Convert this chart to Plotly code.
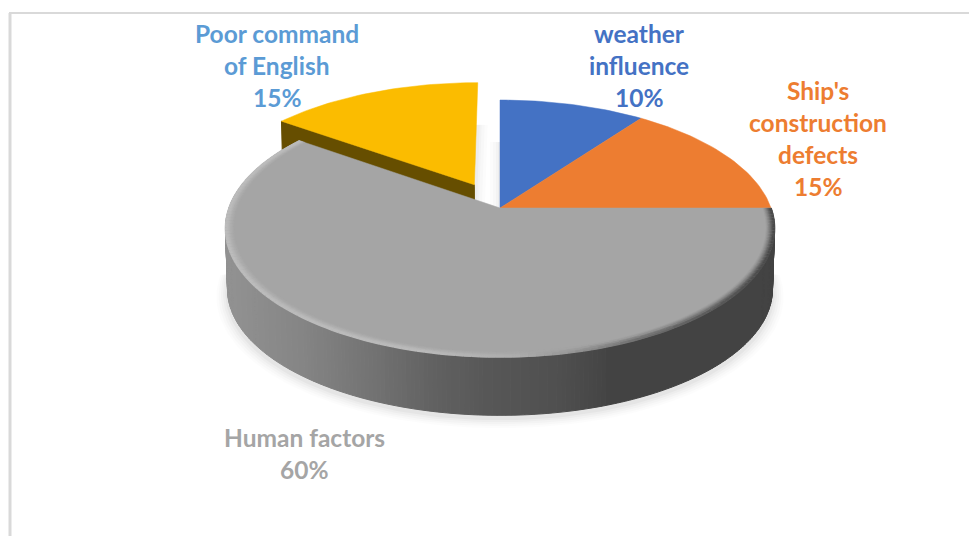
import math
import plotly.graph_objects as go

# ---- data ----
categories = ["weather influence", "Ship's construction defects", "Human factors", "Poor command of English"]
values = [10, 15, 60, 15]
exploded = [0, 0, 0, 0.215]
label_lines = [["weather", "influence", "10%"], ["Ship's", "construction", "defects", "15%"],
               ["Human factors", "60%"], ["Poor command", "of English", "15%"]]
# ---- style ----
top_colors = ["#4472C4", "#ED7D31", "#A5A5A5", "#FBBC00"]
label_colors = ["#4472C4", "#ED7D31", "#A5A5A5", "#5B9BD5"]
yellow_wall = "#664E00"
label_x = [639, 818, 304, 277]
label_y = [33, 90, 437, 33]
LINE = 32
FONT = "Lato, 'Open Sans', sans-serif"
W, H = 977, 536
PAGE = 8  # the page body's default margin


def project(u, v, bottom=False):
    k = 0.1595
    A, B, y0 = (269, 123, 269) if bottom else (271, 125.2, 208)
    d = 1 + k * v
    return 500 + A * u / d, y0 - B * v / d


def disk(t, r=1.0, e=0.0, mid=0.0):
    return r * math.sin(t) + e * math.sin(mid), r * math.cos(t) + e * math.cos(mid)


def hexgray(g):
    g = int(round(max(0, min(255, g))))
    return f"#{g:02x}{g:02x}{g:02x}"


def interp(x, stops):
    if x <= stops[0][0]:
        return stops[0][1]
    for (a, ca), (b, cb) in zip(stops, stops[1:]):
        if x <= b:
            return ca + (cb - ca) * (x - a) / (b - a)
    return stops[-1][1]


total = sum(values)
bounds = [0]
for val in values:
    bounds.append(bounds[-1] + val / total * 2 * math.pi)

fig = go.Figure()


def poly(xs, ys, fill, name="", line=None, lw=0):
    fig.add_trace(go.Scatter(x=xs, y=ys, mode="lines", fill="toself", fillcolor=fill, name=name,
                             line=dict(color=line or fill, width=lw), hoverinfo="skip", showlegend=False))


def sector(i, bottom=False, dx=0, dy=0, grow=0.0):
    a, b = bounds[i], bounds[i + 1]
    mid = (a + b) / 2
    e = exploded[i]
    n = max(8, int((b - a) * 40))
    pts = [project(*disk(0, 0, e, mid), bottom)]
    for j in range(n + 1):
        t = a + (b - a) * j / n
        pts.append(project(*disk(t, 1 + grow, e, mid), bottom))
    pts.append(pts[0])
    return [p[0] + dx for p in pts], [p[1] + dy for p in pts]


# soft ground shadow under the front of the disc
for d, al in [(0.05, 0.012), (0.04, 0.016), (0.03, 0.02), (0.02, 0.025), (0.01, 0.03)]:
    xs, ys = [], []
    for j in range(121):
        t = math.pi / 2 + math.pi * j / 120
        x, y = project(*disk(t, 1 + d * 0.8), True)
        xs.append(x)
        ys.append(y + 3 + d * 60)
    poly(xs, ys, f"rgba(0,0,0,{al})")

# soft shadow on the gap between the exploded slice and the blue one
for s, al in [(10, 0.012), (7, 0.016), (4, 0.02), (2, 0.025)]:
    xs, ys = sector(3, dx=s, dy=42)
    poly(xs, ys, f"rgba(0,0,0,{al})")
    xs, ys = sector(0, dx=-s, dy=42)
    poly(xs, ys, f"rgba(0,0,0,{al})")

# exploded slice: cut wall, then top
mid = (bounds[3] + bounds[4]) / 2
ax, ay = project(*disk(0, 0, exploded[3], mid))
cx, cy = project(*disk(bounds[3], 1, exploded[3], mid))
bx, by = project(*disk(0, 0, exploded[3], mid), True)
dxx, dyy = project(*disk(bounds[3], 1, exploded[3], mid), True)
poly([ax, cx, dxx, bx, ax], [ay, cy, dyy, by, ay], yellow_wall, categories[3] + " wall", lw=1)
tx, ty = project(*disk(bounds[4], 1, exploded[3], mid))
poly([ax, tx, tx, ax, ax], [ay, ty, ty + 4, ay + 4, ay], "#E0AE10")
xs, ys = sector(3)
poly(xs, ys, top_colors[3], categories[3], lw=0.5)

# flat top slices behind the big one
for i in (0, 1):
    xs, ys = sector(i)
    poly(xs, ys, top_colors[i], categories[i], lw=0.5)

# big slice: wall shaded across x
wall_stops = [(226, 146), (300, 133), (370, 115), (430, 98), (480, 88), (560, 79), (610, 67), (780, 67)]
groups = {}
a, b = bounds[2], bounds[3]
N = 260
for j in range(N):
    t0 = a + (b - a) * j / N
    t1 = a + (b - a) * (j + 1) / N
    p0 = project(*disk(t0))
    p1 = project(*disk(t1))
    q0 = project(*disk(t0), True)
    q1 = project(*disk(t1), True)
    g = hexgray(interp((p0[0] + p1[0]) / 2, wall_stops))
    gx, gy = groups.setdefault(g, ([], []))
    gx += [p0[0], p1[0], q1[0], q0[0], p0[0], None]
    gy += [p0[1], p1[1], q1[1], q0[1], p0[1], None]
for g, (gx, gy) in groups.items():
    poly(gx, gy, g, categories[2] + " wall", line=g, lw=1)

xs, ys = sector(2)
poly(xs, ys, top_colors[2], categories[2], lw=0.5)

# bevel ring on the rim of the big slice
rim_stops = [(226, 188), (420, 186), (520, 172), (570, 150), (640, 110), (780, 72)]
rings = [(0.972, 0.08), (0.976, 0.2), (0.98, 0.35), (0.984, 0.5), (0.988, 0.7), (0.992, 0.85), (0.996, 1.0), (1.0, 1.0)]
groups = {}
M = 150
for r, w in rings:
    for j in range(M):
        t0 = a + (b - a) * j / M
        t1 = a + (b - a) * (j + 1) / M
        p0 = project(*disk(t0, r))
        p1 = project(*disk(t1, r))
        target = interp((p0[0] + p1[0]) / 2, rim_stops)
        g = hexgray(165 + (target - 165) * w)
        gx, gy = groups.setdefault(g, ([], []))
        gx += [p0[0], p1[0], None]
        gy += [p0[1], p1[1], None]
for g, (gx, gy) in groups.items():
    fig.add_trace(go.Scatter(x=gx, y=gy, mode="lines", line=dict(color=g, width=1.6),
                             hoverinfo="skip", showlegend=False))

# labels
for lines, lx, ly, col in zip(label_lines, label_x, label_y, label_colors):
    for n, txt in enumerate(lines):
        fig.add_annotation(x=lx, y=ly + n * LINE, text=f"<b>{txt}</b>", showarrow=False,
                           xanchor="center", yanchor="middle",
                           font=dict(family=FONT, size=24.5, color=col))

# outer frame
fig.add_shape(type="line", x0=9, x1=W, y0=13, y1=13, line=dict(color="#D9D9D9", width=2))
fig.add_shape(type="line", x0=10, x1=10, y0=13, y1=H, line=dict(color="#D9D9D9", width=3))

fig.update_layout(width=W - PAGE, height=H - PAGE, margin=dict(l=0, r=0, t=0, b=0), paper_bgcolor="white",
                  plot_bgcolor="white", showlegend=False, autosize=False,
                  xaxis=dict(range=[PAGE, W], visible=False, fixedrange=True),
                  yaxis=dict(range=[H, PAGE], visible=False, fixedrange=True))
fig.write_html("out.html", config={"displayModeBar": False})
